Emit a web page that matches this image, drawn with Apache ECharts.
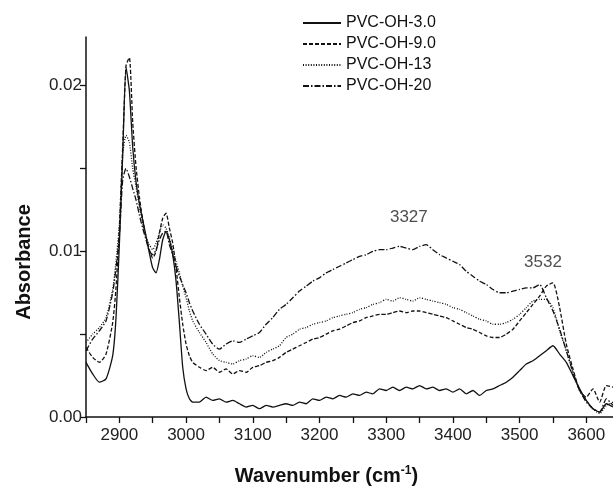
<!DOCTYPE html>
<html>
<head>
<meta charset="utf-8">
<script src="https://cdn.jsdelivr.net/npm/echarts@6/dist/echarts.min.js"></script>
<style>html,body{margin:0;padding:0;background:#fff;}#c{width:613px;height:491px;}</style>
</head>
<body>
<div id="c"></div>
<script>
const wavenumbers = [2850,2860,2870,2880,2890,2895,2900,2905,2910,2915,2920,2925,2930,2935,2940,2945,2950,2955,2960,2965,2970,2975,2980,2985,2990,2995,3000,3005,3010,
3020,3030,3040,3050,3060,3070,3080,3090,3100,3110,3120,3130,3140,3150,3160,3170,3180,3190,3200,3210,3220,3230,3240,3250,3260,3270,3280,3290,3300,3310,3320,3330,3340,3350,3360,3370,3380,3390,3400,3410,3420,3430,3440,3450,3460,3470,3480,3490,3500,3510,3520,3530,3540,3550,3560,3570,3580,3590,3600,3610,3620,3630,3640];

const pvcOH3 = [0.0033,0.0026,0.0021,0.0023,0.0037,0.0060,0.0104,0.0158,0.0211,0.0197,0.0163,0.0142,0.0129,0.0119,0.0109,0.0099,0.0090,0.0087,0.0095,0.0107,0.0112,0.0107,0.0098,0.0082,0.0057,0.0030,0.0017,0.0011,0.0009,
0.0009,0.0012,0.0010,0.0011,0.0009,0.0010,0.0008,0.0006,0.0007,0.0005,0.0007,0.0006,0.0007,0.0008,0.0007,0.0009,0.0008,0.0011,0.0010,0.0012,0.0011,0.0013,0.0012,0.0014,0.0013,0.0015,0.0014,0.0017,0.0016,0.0018,0.0016,0.0018,0.0017,0.0019,0.0017,0.0018,0.0016,0.0017,0.0015,0.0017,0.0014,0.0016,0.0013,0.0016,0.0017,0.0019,0.0021,0.0024,0.0028,0.0032,0.0034,0.0037,0.0040,0.0043,0.0038,0.0033,0.0025,0.0017,0.0010,0.0005,0.0003,0.0008,0.0006];

const pvcOH9 = [0.0042,0.0036,0.0033,0.0038,0.0057,0.0078,0.0114,0.0163,0.0212,0.0217,0.0178,0.0151,0.0133,0.0119,0.0109,0.0101,0.0096,0.0100,0.0111,0.0120,0.0123,0.0114,0.0105,0.0090,0.0072,0.0056,0.0044,0.0037,0.0033,
0.0030,0.0028,0.0030,0.0027,0.0029,0.0026,0.0028,0.0027,0.0030,0.0031,0.0033,0.0034,0.0036,0.0039,0.0041,0.0043,0.0045,0.0047,0.0048,0.0050,0.0052,0.0053,0.0055,0.0057,0.0058,0.0060,0.0061,0.0062,0.0062,0.0063,0.0064,0.0063,0.0064,0.0064,0.0063,0.0062,0.0061,0.0060,0.0058,0.0056,0.0054,0.0053,0.0051,0.0049,0.0048,0.0048,0.0050,0.0053,0.0058,0.0063,0.0068,0.0073,0.0079,0.0081,0.0066,0.0044,0.0029,0.0016,0.0012,0.0017,0.0009,0.0019,0.0018];

const pvcOH13 = [0.0045,0.0050,0.0054,0.0060,0.0077,0.0094,0.0116,0.0158,0.0170,0.0166,0.0150,0.0139,0.0127,0.0117,0.0108,0.0104,0.0101,0.0105,0.0111,0.0116,0.0114,0.0108,0.0101,0.0094,0.0087,0.0079,0.0072,0.0064,0.0058,
0.0051,0.0045,0.0038,0.0034,0.0033,0.0032,0.0034,0.0035,0.0037,0.0036,0.0039,0.0041,0.0043,0.0048,0.0050,0.0053,0.0054,0.0056,0.0057,0.0058,0.0060,0.0061,0.0062,0.0063,0.0065,0.0066,0.0068,0.0069,0.0071,0.0070,0.0072,0.0071,0.0070,0.0072,0.0071,0.0070,0.0069,0.0068,0.0066,0.0065,0.0063,0.0061,0.0059,0.0058,0.0056,0.0056,0.0057,0.0059,0.0062,0.0066,0.0070,0.0071,0.0071,0.0066,0.0052,0.0040,0.0027,0.0016,0.0010,0.0005,0.0002,0.0007,0.0009];

const pvcOH20 = [0.0040,0.0047,0.0052,0.0058,0.0075,0.0090,0.0109,0.0143,0.0150,0.0145,0.0138,0.0131,0.0122,0.0114,0.0107,0.0100,0.0098,0.0101,0.0107,0.0111,0.0112,0.0104,0.0098,0.0091,0.0085,0.0080,0.0075,0.0069,0.0064,
0.0056,0.0050,0.0044,0.0041,0.0044,0.0046,0.0045,0.0047,0.0049,0.0051,0.0056,0.0060,0.0065,0.0068,0.0072,0.0076,0.0079,0.0082,0.0084,0.0087,0.0089,0.0091,0.0093,0.0095,0.0097,0.0098,0.0100,0.0101,0.0101,0.0102,0.0103,0.0102,0.0101,0.0103,0.0104,0.0101,0.0098,0.0096,0.0094,0.0092,0.0088,0.0085,0.0082,0.0080,0.0077,0.0075,0.0075,0.0076,0.0077,0.0078,0.0078,0.0080,0.0072,0.0064,0.0053,0.0040,0.0027,0.0016,0.0009,0.0005,0.0003,0.0011,0.0007];

const seriesNames = ['PVC-OH-3.0','PVC-OH-9.0','PVC-OH-13','PVC-OH-20'];
const annotationLabels = ['3327','3532'];
const annotationPos = [[3334,0.01206],[3535,0.00935]];

function pairs(vals){ return wavenumbers.map((w,i)=>[w, vals[i]]); }

const font = 'Arial, "Liberation Sans", Helvetica, sans-serif';
const dashStyles = ['solid',[4,2],[1,1.6],[6,2,1.5,2]];
const allVals = [pvcOH3,pvcOH9,pvcOH13,pvcOH20];
const clear = 'rgba(0,0,0,0)';

const chart = echarts.init(document.getElementById('c'), null, {renderer:'canvas'});
const series = seriesNames.map((n,i)=>({
  name:n, type:'line', data:pairs(allVals[i]), symbol:'none', smooth:0.2,
  lineStyle:{color:'#111', width:1.3, type:dashStyles[i]},
  itemStyle:{color:clear, borderWidth:0}, z:2
}));
series.push({
  type:'scatter', name:'ann', data:annotationPos.map((p,i)=>({value:p, name:annotationLabels[i]})),
  symbolSize:0, silent:true,
  label:{show:true, position:'inside', formatter:p=>p.name, fontSize:17, color:'#222', fontFamily:font}
});

chart.setOption({
  animation:false,
  backgroundColor:'#fff',
  grid:{left:86, right:0, top:37, bottom:64, containLabel:false},
  legend:{
    data:seriesNames, orient:'vertical', left:297, top:10, itemWidth:38, itemHeight:12, itemGap:5,
    itemStyle:{color:clear, borderWidth:0, borderColor:clear},
    textStyle:{fontSize:16, color:'#111', fontFamily:font, lineHeight:16}
  },
  xAxis:{
    type:'value', min:2850, max:3640, interval:50,
    name:'{a|Wavenumber (cm}{s|-1}{a|)}', nameLocation:'middle', nameGap:48,
    nameTextStyle:{padding:[0,46,0,0], rich:{a:{fontSize:20, fontWeight:'bold', color:'#111', fontFamily:font}, s:{fontSize:12, fontWeight:'bold', color:'#111', fontFamily:font, verticalAlign:'top', padding:[0,0,10,0]}}},
    axisLine:{lineStyle:{color:'#111', width:1.5}},
    axisTick:{show:true, length:6, lineStyle:{color:'#111', width:1.3}},
    axisLabel:{fontSize:17, color:'#222', fontFamily:font, margin:10, formatter:v=>(Math.round(v)%100===0?String(v):''), showMaxLabel:false},
    splitLine:{show:false}
  },
  yAxis:{
    type:'value', min:0, max:0.02294, interval:0.005,
    name:'Absorbance', nameLocation:'middle', nameGap:52, nameRotate:90,
    nameTextStyle:{fontSize:20, fontWeight:'bold', color:'#111', fontFamily:font, padding:[0,70,0,0]},
    axisLine:{show:true, lineStyle:{color:'#111', width:1.5}},
    axisTick:{show:true, length:6, lineStyle:{color:'#111', width:1.3}},
    axisLabel:{fontSize:17, color:'#222', fontFamily:font, margin:4, formatter:v=>(Math.round(v*1000)%10===0?v.toFixed(2):''), showMaxLabel:false},
    splitLine:{show:false}
  },
  series:series
});
</script>
</body>
</html>
